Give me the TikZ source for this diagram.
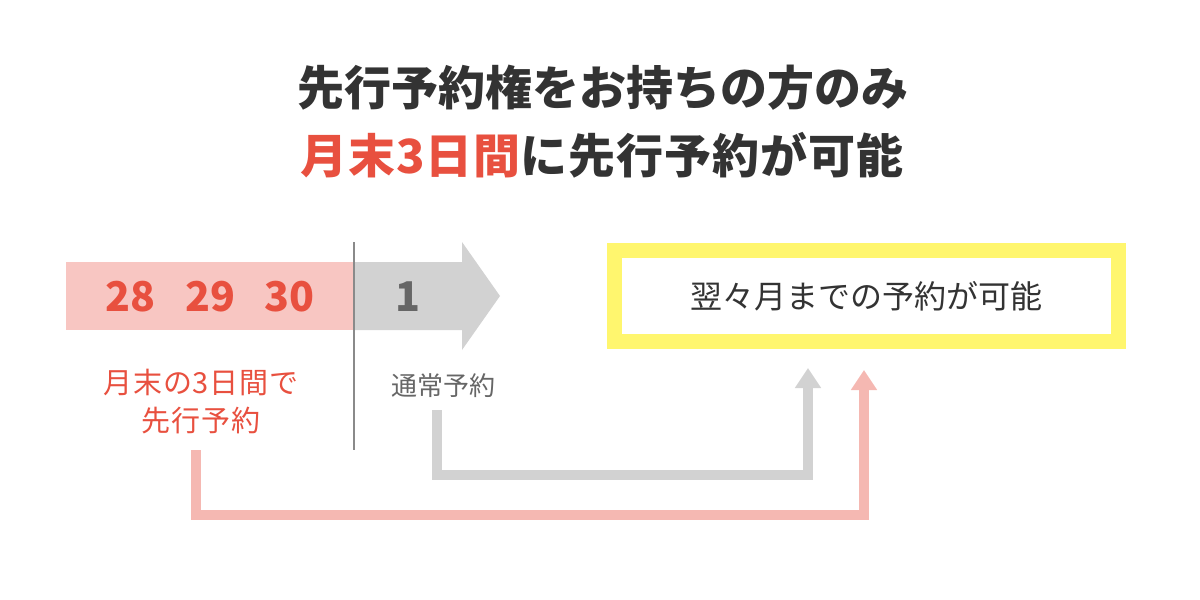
\documentclass[tikz,border=0pt]{standalone}
\usepackage{fontspec}
\setmainfont{Noto Sans CJK JP}
\usetikzlibrary{arrows.meta}
\definecolor{tred}{HTML}{E8503F}
\definecolor{tdark}{HTML}{333333}
\definecolor{barpink}{HTML}{F8C6C2}
\definecolor{linepink}{HTML}{F5B8B2}
\definecolor{bargray}{HTML}{D2D2D2}
\definecolor{tgray}{HTML}{666666}
\definecolor{divgray}{HTML}{8A8A8A}
\definecolor{yel}{HTML}{FFF66E}
\tikzset{
  txt/.style={inner sep=0pt, anchor=center, align=center},
  conn/.style={line width=10pt, line join=miter, -{Triangle[width=25pt,length=20pt]}},
}
\begin{document}
\begin{tikzpicture}[x=1pt,y=-1pt]
\useasboundingbox (0,0) rectangle (1200,600);
% title
\node[txt, text=tdark, font=\fontsize{47}{50}\selectfont\bfseries] (title1) at (603,88) {先行予約権をお持ちの方のみ};
\node[txt, text=tdark, font=\fontsize{47}{50}\selectfont\bfseries\addfontfeature{LetterSpace=2}] (title2) at (602,155) {{\color{tred}月末3日間}に先行予約が可能};
% timeline
\fill[barpink] (66,262) rectangle (354,330);
\fill[bargray] (354,262) -- (462,262) -- (462,242) -- (500,296) -- (462,350) -- (462,330) -- (354,330) -- cycle;
\draw[divgray, line width=1.6pt] (354,242) -- (354,450);
\node[txt, text=tred, font=\fontsize{41}{45}\selectfont\bfseries] (n28) at (130,297) {28};
\node[txt, text=tred, font=\fontsize{41}{45}\selectfont\bfseries] (n29) at (210,297) {29};
\node[txt, text=tred, font=\fontsize{41}{45}\selectfont\bfseries] (n30) at (289,297) {30};
\node[txt, text=tgray, font=\fontsize{41}{45}\selectfont\bfseries] (n1) at (408,297) {1};
% labels
\node[txt, text=tred, font=\fontsize{29}{38}\selectfont\addfontfeature{LetterSpace=3}] (lbl1) at (201,402) {月末の3日間で\\先行予約};
\node[txt, text=tgray, font=\fontsize{26}{30}\selectfont] (lbl2) at (443,386) {通常予約};
% result box
\node[draw=yel, line width=15pt, minimum width=504pt, minimum height=91pt, inner sep=0pt] (box) at (866.5,296) {};
\node[txt, text=tdark, font=\fontsize{32}{36}\selectfont] (boxtxt) at (box.center) {翌々月までの予約が可能};
% connectors
\coordinate (gs) at (437,410);
\coordinate (ge) at (808,368);
\coordinate (ps) at (196,450);
\coordinate (pe) at (864,370);
\draw[conn, bargray] (gs) |- (ge |- 0,475) -- (ge);
\draw[conn, linepink] (ps) |- (pe |- 0,515) -- (pe);
\end{tikzpicture}
\end{document}
